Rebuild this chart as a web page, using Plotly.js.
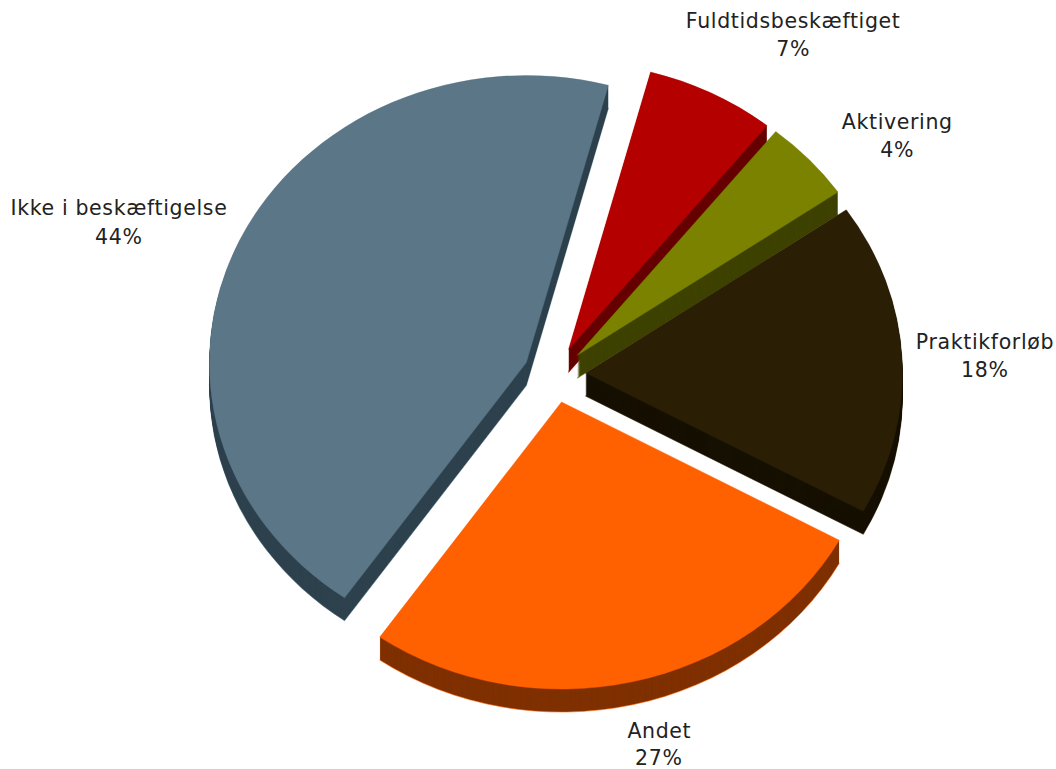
<!DOCTYPE html>
<html>
<head>
<meta charset="utf-8">
<script src="https://cdn.plot.ly/plotly-3.0.1.min.js"></script>
<style>html,body{margin:0;padding:0;background:#fff}#chart{width:1056px;height:769px}.annotation text{letter-spacing:0.65px}</style>
</head>
<body>
<div id="chart"></div>
<script>
const categories = ["Fuldtidsbeskæftiget", "Aktivering", "Praktikforløb", "Andet", "Ikke i beskæftigelse"];
const shares = [6.6, 4.6, 17.6, 26.7, 44.4];
const shownPercent = ["7%", "4%", "18%", "27%", "44%"];
const topColors = ["#B50000", "#7A8200", "#2A1E04", "#FF6000", "#5A7687"];
const wallColors = ["#660000", "#3E4200", "#161002", "#7F3000", "#2E424E"];
const labelCentersX = [793, 897, 985, 659, 119];
const labelNameY = [21, 122, 342, 731, 208];
const labelPctY = [49, 150, 370, 758, 237];

const W = 1056, H = 769;
const squash = 0.906, depth = 23, cx = 554.5, cy = 374.5, halfDomain = 348, pull = 0.098;

function pieTrace(offset, colors, lineColors, lineWidth) {
  const shift = offset / squash;
  return {
    type: "pie", sort: false, direction: "clockwise", rotation: 15,
    labels: categories, values: shares, textinfo: "none", hoverinfo: "label+percent",
    pull: categories.map(() => pull),
    marker: { colors: colors, line: { color: lineColors, width: lineWidth } },
    domain: {
      x: [(cx - halfDomain) / W, (cx + halfDomain) / W],
      y: [1 - (cy + shift + halfDomain) / H, 1 - (cy + shift - halfDomain) / H]
    },
    showlegend: false
  };
}

const traces = [pieTrace(depth, wallColors, topColors, 0.6)];
for (let d = depth - 1; d > 0; d--) traces.push(pieTrace(d, wallColors, wallColors, 0));
traces.push(pieTrace(0, topColors, topColors, 0.4));

const textFont = { family: "'DejaVu Sans', Verdana, sans-serif", size: 20.5, color: "#222" };
const annotations = [];
categories.forEach((name, i) => {
  annotations.push({ text: name, x: labelCentersX[i] / W, y: 1 - labelNameY[i] / H, xref: "paper", yref: "paper",
    xanchor: "center", yanchor: "middle", showarrow: false, font: textFont });
  annotations.push({ text: shownPercent[i], x: labelCentersX[i] / W, y: 1 - labelPctY[i] / H, xref: "paper", yref: "paper",
    xanchor: "center", yanchor: "middle", showarrow: false, font: textFont });
});

Plotly.newPlot("chart", traces, {
  width: W, height: H, margin: { l: 0, r: 0, t: 0, b: 0 },
  paper_bgcolor: "#fff", showlegend: false, annotations: annotations
}, { displayModeBar: false, staticPlot: true }).then(gd => {
  // the reference pie is a tilted disc: squash the pie layer vertically around its centre
  const layer = gd.querySelector(".pielayer");
  layer.setAttribute("transform", `translate(0,${cy * (1 - squash)}) scale(1,${squash})`);
});
</script>
</body>
</html>
